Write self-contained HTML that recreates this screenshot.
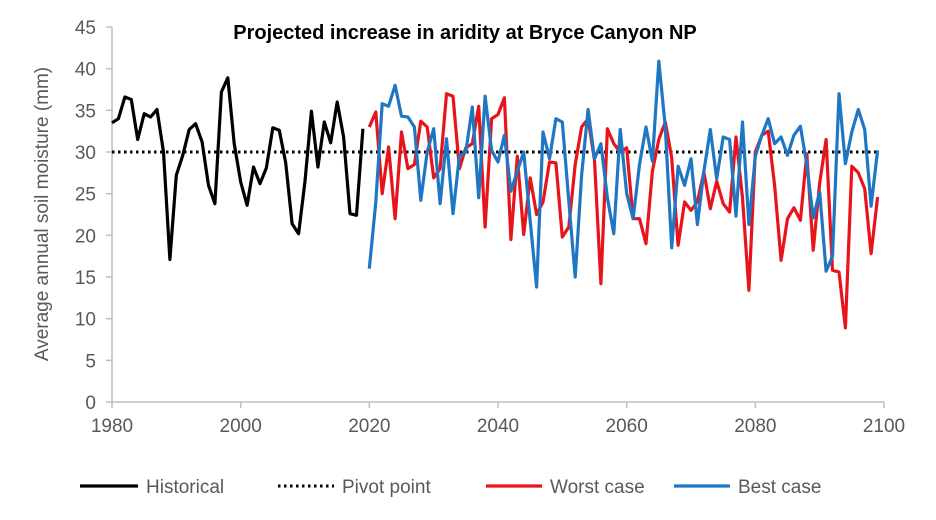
<!DOCTYPE html>
<html><head><style>
body{margin:0;background:#fff;}
svg{font-family:"Liberation Sans",sans-serif;}
</style></head><body>
<svg width="936" height="515" viewBox="0 0 936 515" xmlns="http://www.w3.org/2000/svg">
<rect width="936" height="515" fill="#fff"/>
<text x="465" y="39" text-anchor="middle" font-size="20" font-weight="bold" fill="#000">Projected increase in aridity at Bryce Canyon NP</text>
<g id="ax" stroke="#bfbfbf" stroke-width="1.5"></g>
<g id="lab" font-size="19" fill="#595959"></g>
<text transform="translate(48,214) rotate(-90)" text-anchor="middle" font-size="19" fill="#595959">Average annual soil moisture (mm)</text>
<g id="ser" fill="none" stroke-width="3.2" stroke-linejoin="round"></g>
<g font-size="19" fill="#595959">
<line x1="80" y1="486" x2="138" y2="486" stroke="#000" stroke-width="3.2"/><text x="146" y="493">Historical</text>
<line x1="278" y1="486" x2="334" y2="486" stroke="#000" stroke-width="3" stroke-dasharray="2.5,3.5"/><text x="342" y="493">Pivot point</text>
<line x1="486" y1="486" x2="542" y2="486" stroke="#e8141c" stroke-width="3.2"/><text x="550" y="493">Worst case</text>
<line x1="674" y1="486" x2="730" y2="486" stroke="#1f77c4" stroke-width="3.2"/><text x="738" y="493">Best case</text>
</g>
</svg>
<script>
const NS="http://www.w3.org/2000/svg";
const X=y=>112+(y-1980)*772/120, Y=v=>402-v*375/45;
const ax=document.getElementById('ax'),lab=document.getElementById('lab'),ser=document.getElementById('ser');
function el(p,t,a,txt){const e=document.createElementNS(NS,t);for(const k in a)e.setAttribute(k,a[k]);if(txt!=null)e.textContent=txt;p.appendChild(e);return e;}
el(ax,'line',{x1:112,y1:Y(45),x2:112,y2:402});
el(ax,'line',{x1:112,y1:402,x2:884,y2:402});
for(let v=0;v<=45;v+=5){el(ax,'line',{x1:106,y1:Y(v),x2:112,y2:Y(v)});el(lab,'text',{x:96,y:Y(v)+7,'text-anchor':'end'},v);}
for(let y=1980;y<=2100;y+=20){el(ax,'line',{x1:X(y),y1:402,x2:X(y),y2:408});el(lab,'text',{x:X(y),y:432,'text-anchor':'middle'},y);}
function line(start,vals,col,extra){let d=vals.map((v,i)=>(i?'L':'M')+X(start+i).toFixed(1)+' '+Y(v).toFixed(1)).join(' ');const a={d,stroke:col};Object.assign(a,extra||{});el(ser,'path',a);}
const hist=[33.5,34,36.6,36.3,31.5,34.6,34.2,35.1,30,17.1,27.2,29.6,32.7,33.4,31.2,26,23.8,37.2,38.9,31,26.4,23.6,28.2,26.2,28.1,32.9,32.6,28.7,21.4,20.2,26.5,34.9,28.2,33.6,31.1,36,31.8,22.6,22.4,32.8];
const worst=[33,34.8,25,30.6,22,32.4,28,28.5,33.7,33,26.9,28,37,36.7,28,30.5,31,35.5,21,34,34.5,36.5,19.5,29.5,20.1,26.9,22.5,24,28.8,28.7,19.8,21,28.5,33,34,29,14.2,32.8,31,30,30.5,22,22,19,27.7,31.5,33.6,29.3,18.8,24,23,24,27.6,23.2,26.5,23.8,22.8,31.8,24.5,13.4,30,32,32.5,26,17,22,23.3,21.8,29.8,18.2,26.3,31.5,15.8,15.6,8.9,28.3,27.5,25.6,17.8,24.6];
const best=[16,24,35.8,35.5,38,34.3,34.2,33,24.2,30,32.8,23.8,31.6,22.6,29.5,30,35.4,24.5,36.7,30.2,28.8,32,25.3,27.7,30,21.7,13.8,32.4,29.2,34,33.6,24.1,15,27.2,35.1,29.2,31,24.5,20.2,32.7,25,22,28.5,33,28.9,40.9,33,18.5,28.3,26,29.2,21.3,27.7,32.7,26.8,31.8,31.5,22.3,33.6,21.3,29.5,32,34,31,31.8,29.6,32,33.1,28.5,22.1,25.2,15.7,17.5,37,28.6,32.4,35.1,32.7,23.5,30.2];
line(1980,hist,'#000');
el(ser,'line',{x1:X(1980),y1:Y(30),x2:X(2099),y2:Y(30),stroke:'#000','stroke-width':3,'stroke-dasharray':'2.5,3.5'});
line(2020,worst,'#e8141c');
line(2020,best,'#1f77c4');
</script>
</body></html>
